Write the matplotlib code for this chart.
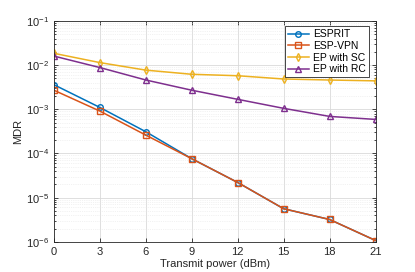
import numpy as np
import matplotlib.pyplot as plt
from matplotlib.ticker import LogLocator, NullFormatter

power = [0, 3, 6, 9, 12, 15, 18, 21]
esprit = [3.6e-3, 1.1e-3, 3.1e-4, 7.6e-5, 2.2e-5, 5.6e-6, 3.2e-6, 1.07e-6]
esp_vpn = [2.7e-3, 9.1e-4, 2.6e-4, 7.6e-5, 2.2e-5, 5.6e-6, 3.2e-6, 1.07e-6]
ep_sc = [1.85e-2, 1.14e-2, 7.7e-3, 6.2e-3, 5.75e-3, 4.85e-3, 4.6e-3, 4.4e-3]
ep_rc = [1.6e-2, 8.8e-3, 4.6e-3, 2.7e-3, 1.68e-3, 1.05e-3, 6.9e-4, 5.9e-4]

plt.rcParams['font.family'] = 'Liberation Sans'
fig = plt.figure(figsize=(4.15, 2.72), dpi=100)
ax = fig.add_axes([0.130, 0.111, 0.775, 0.812])

series = [
    ('ESPRIT', esprit, '#0072BD', 'o'),
    ('ESP-VPN', esp_vpn, '#D95319', 's'),
    ('EP with SC', ep_sc, '#EDB120', 'd'),
    ('EP with RC', ep_rc, '#7E2F8E', '^'),
]
for label, vals, color, marker in series:
    ax.semilogy(power, vals, color=color, marker=marker, markersize=4,
                markerfacecolor='none', markeredgewidth=1.0, linewidth=1.1,
                label=label)

ax.set_xlim(0, 21)
ax.set_ylim(1e-6, 1e-1)
ax.set_xticks(power)
ax.yaxis.set_major_locator(LogLocator(base=10, numticks=10))
ax.yaxis.set_minor_locator(LogLocator(base=10, subs=np.arange(2, 10), numticks=10))
ax.yaxis.set_minor_formatter(NullFormatter())
ax.grid(True, which='major', color='#d9d9d9', linewidth=0.6)
ax.grid(True, which='minor', color='#e6e6e6', linewidth=0.5, linestyle=':')
ax.tick_params(which='both', direction='in', top=True, right=True,
               labelsize=8, colors='#262626', width=0.6)
ax.tick_params(which='major', length=3)
ax.tick_params(which='minor', length=1.5)
for sp in ax.spines.values():
    sp.set_color('#262626')
    sp.set_linewidth(0.6)

ax.set_xlabel('Transmit power (dBm)', fontsize=8, color='#262626', labelpad=2)
ax.set_ylabel('MDR', fontsize=8, color='#262626', labelpad=2)

leg = ax.legend(loc='upper right', bbox_to_anchor=(0.985, 0.985), fontsize=7.5,
                fancybox=False, framealpha=1, edgecolor='#262626',
                handlelength=2.0, handletextpad=0.4, borderpad=0.3,
                labelspacing=0.15, borderaxespad=0.2)
leg.get_frame().set_linewidth(0.6)

fig.savefig('out.png', dpi=100)
